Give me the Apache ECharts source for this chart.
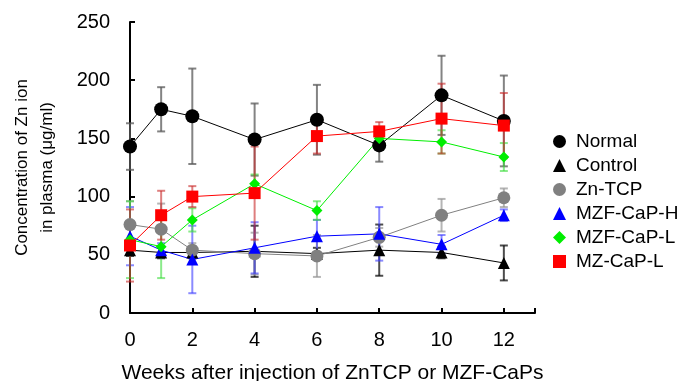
<!DOCTYPE html>
<html>
<head>
<meta charset="utf-8">
<script src="https://cdn.jsdelivr.net/npm/echarts@6/dist/echarts.min.js"></script>
<style>
  html, body { margin: 0; padding: 0; background: #fff; }
  #chart { width: 683px; height: 381px; }
</style>
</head>
<body>
<div id="chart"></div>
<script>
// weeks after injection
const weeks = [0, 1, 2, 4, 6, 8, 10, 12];

const names = ['Normal', 'Control', 'Zn-TCP', 'MZF-CaP-H', 'MZF-CaP-L', 'MZ-CaP-L'];

// means
const normal = [143, 175, 169, 149, 166, 144, 187, 165];
const control = [54, 52, 52, 53, 51, 54, 52, 43];
const znTcp = [76, 72, 54, 51, 49, 65, 84, 99];
const mzfH = [66, 54, 46, 56, 66, 68, 59, 84];
const mzfL = [63, 57, 80, 111, 88, 150, 147, 134];
const mzL = [58, 84, 100, 103, 152, 156, 167, 161];

// error bars (+/-)
const normalErr = [20, 19, 41, 31, 30, 14, 34, 39];
const controlErr = [5, 5, 5, 22, 5, 22, 5, 15];
const znTcpErr = [20, 22, 6, 18, 18, 8, 14, 8];
const mzfHErr = [25, 6, 29, 22, 14, 23, 8, 5];
const mzfLErr = [33, 27, 10, 8, 8, 10, 10, 12];
const mzLErr = [31, 21, 9, 40, 15, 8, 30, 28];

const chart = echarts.init(document.getElementById('chart'));

const font = 'Liberation Sans, Arial, sans-serif';
const lineColors = ['#000000', '#000000', '#808080', '#0000ff', '#00ee00', '#ff0000'];
const barColors = ['rgba(90,90,90,0.75)', 'rgba(0,0,0,0.7)', 'rgba(150,150,150,0.7)',
  'rgba(60,60,255,0.6)', 'rgba(60,220,60,0.6)', 'rgba(200,40,40,0.6)'];
const symbols = ['circle', 'triangle', 'circle', 'triangle', 'diamond', 'rect'];
const sizes = [14, 12, 13, 12, 11, 12];
const means = [normal, control, znTcp, mzfH, mzfL, mzL];
const errs = [normalErr, controlErr, znTcpErr, mzfHErr, mzfLErr, mzLErr];

const errorSeries = means.map(function (m, k) {
  return {
    type: 'custom',
    name: names[k] + ' err',
    z: 1,
    silent: true,
    data: weeks.map(function (w, i) { return [w, m[i] - errs[k][i], m[i] + errs[k][i]]; }),
    renderItem: function (params, api) {
      const lo = api.coord([api.value(0), api.value(1)]);
      const hi = api.coord([api.value(0), api.value(2)]);
      const hw = 4;
      const style = { stroke: barColors[k], lineWidth: 2 };
      return {
        type: 'group',
        children: [
          { type: 'line', shape: { x1: lo[0], y1: lo[1], x2: hi[0], y2: hi[1] }, style: style },
          { type: 'line', shape: { x1: lo[0] - hw, y1: lo[1], x2: lo[0] + hw, y2: lo[1] }, style: style },
          { type: 'line', shape: { x1: hi[0] - hw, y1: hi[1], x2: hi[0] + hw, y2: hi[1] }, style: style }
        ]
      };
    }
  };
});

const lineSeries = means.map(function (m, k) {
  return {
    type: 'line',
    name: names[k],
    z: 3,
    data: weeks.map(function (w, i) { return [w, m[i]]; }),
    symbol: symbols[k],
    symbolSize: sizes[k],
    showAllSymbol: true,
    lineStyle: { color: lineColors[k], width: 1 },
    itemStyle: { color: lineColors[k] }
  };
});

chart.setOption({
  animation: false,
  textStyle: { fontFamily: font },
  grid: { left: 130, top: 22, width: 405, bottom: 68, containLabel: false, outerBoundsMode: 'none' },
  legend: {
    data: names.map(function (n, k) { return { name: n, icon: symbols[k] }; }),
    orient: 'vertical',
    left: 548,
    top: 127,
    itemWidth: 13,
    itemHeight: 13,
    itemGap: 5,
    textStyle: { fontSize: 19, color: '#000', fontFamily: font, padding: [0, 0, 0, 5] }
  },
  xAxis: {
    type: 'value',
    min: 0,
    max: 13,
    interval: 2,
    name: 'Weeks after injection of ZnTCP or MZF-CaPs',
    nameLocation: 'middle',
    nameGap: 50,
    nameTextStyle: { fontSize: 21, color: '#000' },
    axisLine: { lineStyle: { color: '#000', width: 2 } },
    axisTick: { inside: true, length: 5, lineStyle: { color: '#000', width: 2 } },
    axisLabel: {
      fontSize: 20, color: '#000', margin: 17,
      formatter: function (v) { return v > 12 ? '' : v; }
    },
    splitLine: { show: false }
  },
  yAxis: {
    type: 'value',
    min: 0,
    max: 250,
    interval: 50,
    name: 'Concentration of Zn ion\nin plasma (μg/ml)',
    nameLocation: 'middle',
    nameGap: 70,
    nameTextStyle: { fontSize: 17, color: '#000', lineHeight: 25 },
    axisLine: { show: true, lineStyle: { color: '#000', width: 2 } },
    axisTick: { show: true, inside: true, length: 5, lineStyle: { color: '#000', width: 2 } },
    axisLabel: { fontSize: 20, color: '#000', margin: 20 },
    splitLine: { show: false }
  },
  series: errorSeries.concat(lineSeries)
});
</script>
</body>
</html>
